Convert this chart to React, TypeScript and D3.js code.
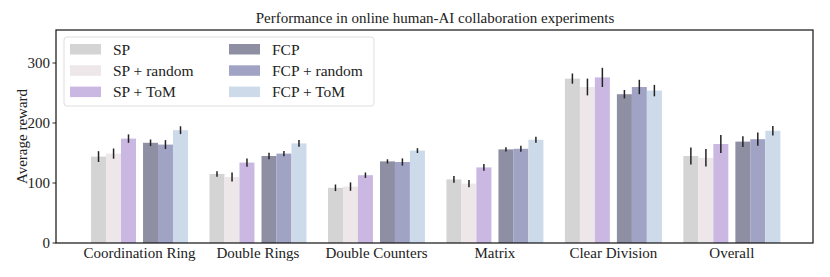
import React from "react";
import * as d3 from "d3";

const categories = ["Coordination Ring", "Double Rings", "Double Counters", "Matrix", "Clear Division", "Overall"];
const seriesNames = ["SP", "SP + random", "SP + ToM", "FCP", "FCP + random", "FCP + ToM"];
const seriesColors = ["#d4d4d4", "#ede7ea", "#cab8e2", "#8f8fa3", "#a0a3c4", "#cddaea"];

const spVals = [144, 115, 92, 106, 274, 145];
const spErr = [9, 4.5, 5.5, 5.5, 8.5, 14];
const spRandomVals = [149, 110, 94, 99, 260, 142];
const spRandomErr = [8.5, 7.5, 7, 6, 14, 14.5];
const spTomVals = [174, 134, 113, 126, 276, 165];
const spTomErr = [7, 7, 4.5, 5.5, 16, 15];
const fcpVals = [167, 145, 136, 156, 248, 169];
const fcpErr = [5.5, 5.5, 3.5, 3.5, 7, 9];
const fcpRandomVals = [164, 149, 135, 157, 260, 173];
const fcpRandomErr = [7.5, 4.5, 6, 5, 12, 11];
const fcpTomVals = [188, 166, 154, 172, 254, 187];
const fcpTomErr = [6.5, 5.5, 4, 5, 9.5, 8];

const values = [spVals, spRandomVals, spTomVals, fcpVals, fcpRandomVals, fcpTomVals];
const errors = [spErr, spRandomErr, spTomErr, fcpErr, fcpRandomErr, fcpTomErr];
const yTicks = [0, 100, 200, 300];

const W = 830, H = 277;
const left = 56, right = 813, top = 30, bottom = 243;
const font = "Liberation Serif, DejaVu Serif, serif";

export default function App() {
  const x = d3.scaleLinear().domain([-0.705, 5.685]).range([left, right]);
  const y = d3.scaleLinear().domain([0, 355]).range([bottom, top]);
  const bw = 0.1266;
  const offsets = [-0.346, -0.219, -0.093, 0.093, 0.219, 0.346];

  return (
    <svg width={W} height={H} style={{ position: "absolute", left: 0, top: 0, fontFamily: font }}>
      <rect width={W} height={H} fill="white" />
      <text x={(left + right) / 2 + 0.5} y={23} textAnchor="middle" fontSize={15} fill="#222">
        Performance in online human-AI collaboration experiments
      </text>
      {values.map((vals, j) =>
        vals.map((v, i) => {
          const cx = x(i + offsets[j]);
          const x0 = x(i + offsets[j] - bw / 2);
          const x1 = x(i + offsets[j] + bw / 2);
          return (
            <g key={`${j}-${i}`}>
              <rect x={x0} y={y(v)} width={x1 - x0} height={y(0) - y(v)} fill={seriesColors[j]} />
              <line x1={cx} x2={cx} y1={y(v - errors[j][i])} y2={y(v + errors[j][i])} stroke="#222" strokeWidth={1.5} />
            </g>
          );
        })
      )}
      <rect x={left} y={top} width={right - left} height={bottom - top} fill="none" stroke="#111" strokeWidth={1.2} />
      {yTicks.map((t) => (
        <g key={t}>
          <line x1={left - 3.5} x2={left} y1={y(t)} y2={y(t)} stroke="#111" strokeWidth={0.9} />
          <text x={left - 6} y={y(t) + 5} textAnchor="end" fontSize={15} fill="#222">{t}</text>
        </g>
      ))}
      {categories.map((c, i) => (
        <text key={c} x={x(i)} y={258} textAnchor="middle" fontSize={15} fill="#222">{c}</text>
      ))}
      <text transform={`translate(27,${(top + bottom) / 2}) rotate(-90)`} textAnchor="middle" fontSize={15} fill="#222">
        Average reward
      </text>
      <g>
        <rect x={64} y={37} width={310} height={69} rx={3} fill="white" fillOpacity={0.8} stroke="#ddd" strokeWidth={1} />
        {seriesNames.map((s, j) => {
          const col = j < 3 ? 0 : 1;
          const row = j % 3;
          const px = col === 0 ? 70 : 229;
          const py = 44 + row * 21.3;
          return (
            <g key={s}>
              <rect x={px} y={py} width={31} height={10.5} fill={seriesColors[j]} />
              <text x={px + 43} y={py + 10.5} fontSize={15.5} fill="#222">{s}</text>
            </g>
          );
        })}
      </g>
    </svg>
  );
}
